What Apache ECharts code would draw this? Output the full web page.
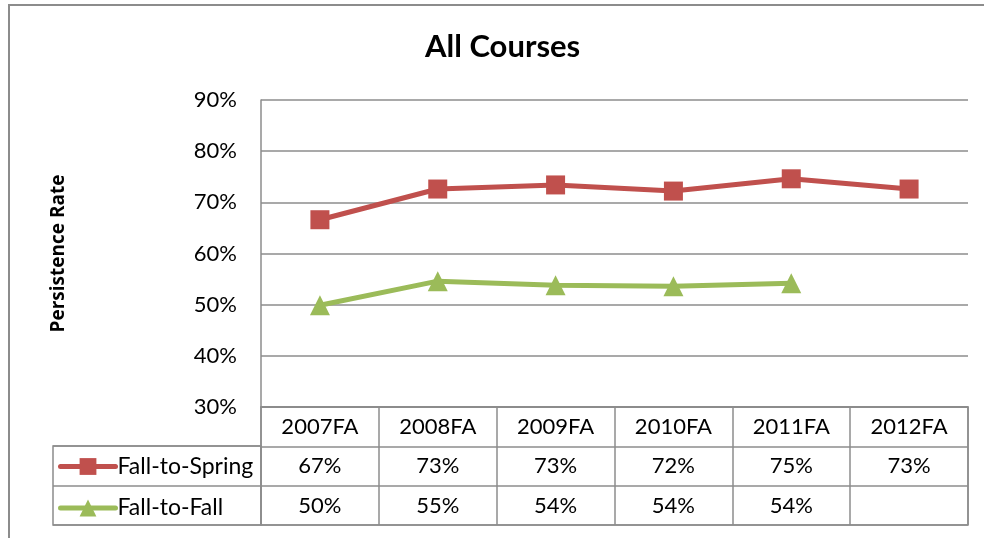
<!DOCTYPE html>
<html>
<head>
<meta charset="utf-8" />
<title>All Courses</title>
<script src="https://cdn.jsdelivr.net/npm/echarts@6/dist/echarts.min.js"></script>
<style>
  html, body { margin: 0; padding: 0; background: #fff; overflow: hidden; }
  #chart { width: 984px; height: 538px; }
</style>
</head>
<body>
<div id="chart"></div>
<script>
// data
var categories = ['2007FA', '2008FA', '2009FA', '2010FA', '2011FA', '2012FA'];
var fallToSpring = [66.6, 72.6, 73.4, 72.2, 74.6, 72.6];
var fallToFall = [49.9, 54.6, 53.8, 53.6, 54.2, null];
var yMin = 30, yMax = 90, yStep = 10;

var FONT = 'Lato';
var GRID_LINE = '#8c8c8c';
var ROW_H = 39.5;

function pct(v) {
    return v == null ? ' ' : Math.round(v) + '%';
}

var chart = echarts.init(document.getElementById('chart'), null, {renderer: 'canvas'});

var option = {
    animation: false,
    backgroundColor: '#fff',
    textStyle: {fontFamily: FONT},
    title: {
        text: 'All Courses',
        left: 425,
        top: 31,
        padding: 0,
        textStyle: {fontFamily: FONT, fontSize: 31, fontWeight: 'bold', color: '#000'}
    },
    legend: {
        orient: 'vertical',
        left: 58,
        top: 455,
        itemWidth: 55,
        itemHeight: 21,
        itemGap: ROW_H - 21,
        padding: 0,
        selectedMode: false,
        lineStyle: {width: 5, cap: 'round'},
        textStyle: {fontFamily: FONT, fontSize: 23, color: '#000', lineHeight: 21, padding: [0, 0, 0, -3]},
        data: ['Fall-to-Spring', 'Fall-to-Fall']
    },
    grid: [
        // plot
        {left: 261, top: 100, width: 707, height: 307},
        // data table
        {left: 261, top: 407, width: 707, height: 118, show: true, borderColor: GRID_LINE, borderWidth: 1.5},
        // legend column
        {left: 53, top: 446, width: 208, height: 79, show: true, borderColor: GRID_LINE, borderWidth: 1.5}
    ],
    xAxis: [
        {
            gridIndex: 0,
            type: 'category',
            data: categories,
            boundaryGap: true,
            axisLine: {show: true, lineStyle: {color: GRID_LINE, width: 1.5}},
            axisTick: {show: false},
            axisLabel: {
                margin: 0,
                interval: 0,
                formatter: function (v, i) {
                    return '{c|' + v + '}\n{c|' + pct(fallToSpring[i]) + '}\n{c|' + pct(fallToFall[i]) + '}';
                },
                rich: {
                    c: {fontFamily: FONT, fontSize: 22, color: '#000', lineHeight: ROW_H, align: 'center'}
                }
            }
        },
        {
            gridIndex: 1,
            type: 'category',
            data: categories,
            boundaryGap: true,
            axisLine: {show: false},
            axisTick: {show: false},
            axisLabel: {show: false},
            splitLine: {show: true, interval: 0, lineStyle: {color: GRID_LINE, width: 1.5}}
        },
        {
            gridIndex: 2,
            type: 'value',
            show: false
        }
    ],
    yAxis: [
        {
            gridIndex: 0,
            type: 'value',
            min: yMin,
            max: yMax,
            interval: yStep,
            name: 'Persistence Rate',
            nameLocation: 'middle',
            nameRotate: 90,
            nameGap: 193,
            nameTextStyle: {fontFamily: 'Open Sans', fontSize: 19, fontWeight: 'bold', color: '#000'},
            axisLine: {show: true, lineStyle: {color: GRID_LINE, width: 1.5}},
            axisTick: {show: false},
            axisLabel: {
                margin: 24,
                formatter: '{value}%',
                fontFamily: FONT, fontSize: 22, color: '#000'
            },
            splitLine: {show: true, lineStyle: {color: GRID_LINE, width: 1.5}}
        },
        {
            gridIndex: 1,
            type: 'value',
            min: 0, max: 3, interval: 1,
            axisLine: {show: false},
            axisTick: {show: false},
            axisLabel: {show: false},
            splitLine: {show: true, lineStyle: {color: GRID_LINE, width: 1.5}}
        },
        {
            gridIndex: 2,
            type: 'value',
            min: 0, max: 2, interval: 1,
            axisLine: {show: false},
            axisTick: {show: false},
            axisLabel: {show: false},
            splitLine: {show: true, lineStyle: {color: GRID_LINE, width: 1.5}}
        }
    ],
    series: [
        {
            name: 'Fall-to-Spring',
            type: 'line',
            xAxisIndex: 0,
            yAxisIndex: 0,
            data: fallToSpring,
            symbol: 'rect',
            symbolSize: 19,
            color: '#C0504D',
            lineStyle: {width: 5, color: '#C0504D'},
            itemStyle: {color: '#C0504D'},
            emphasis: {disabled: true}
        },
        {
            name: 'Fall-to-Fall',
            type: 'line',
            xAxisIndex: 0,
            yAxisIndex: 0,
            data: fallToFall,
            symbol: 'triangle',
            symbolSize: 20,
            color: '#9BBB59',
            lineStyle: {width: 5, color: '#9BBB59'},
            itemStyle: {color: '#9BBB59'},
            emphasis: {disabled: true}
        }
    ],
    graphic: [
        {
            // outer chart-area frame: only its left and top edges fall inside the picture
            type: 'polyline',
            shape: {points: [[9, 600], [9, 5], [984, 5]]},
            style: {fill: null, stroke: '#8c8c8c', lineWidth: 2},
            silent: true
        }
    ]
};

chart.setOption(option);
</script>
</body>
</html>
